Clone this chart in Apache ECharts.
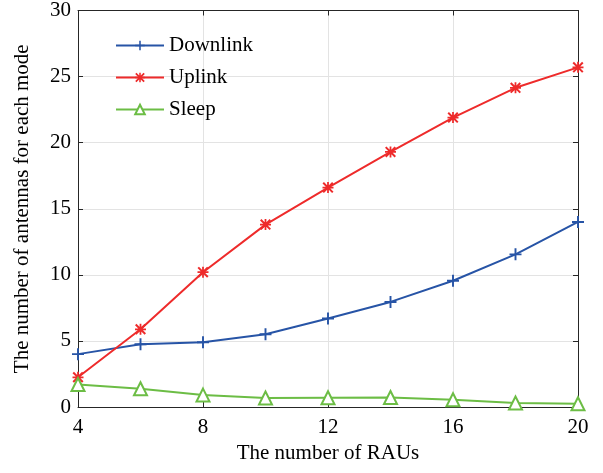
<!DOCTYPE html>
<html>
<head>
<meta charset="utf-8">
<script src="https://cdn.jsdelivr.net/npm/echarts@6/dist/echarts.min.js"></script>
<style>html,body{margin:0;padding:0;background:#fff;}#c{width:603px;height:473px;}</style>
</head>
<body>
<div id="c"></div>
<script>
var xValues = [4, 6, 8, 10, 12, 14, 16, 18, 20];
var downlink = [4.0, 4.75, 4.9, 5.5, 6.7, 7.95, 9.55, 11.55, 14.0];
var uplink = [2.25, 5.88, 10.2, 13.8, 16.6, 19.3, 21.9, 24.15, 25.7];
var sleep = [1.7, 1.38, 0.9, 0.68, 0.7, 0.72, 0.55, 0.3, 0.25];
var seriesNames = ['Downlink', 'Uplink', 'Sleep'];
var xTicks = [4, 8, 12, 16, 20];
var yTicks = [0, 5, 10, 15, 20, 25, 30];

function pairs(ys) { return xValues.map(function (x, i) { return [x, ys[i]]; }); }

var plusPath = 'path://M4.2,0H5.8V4.2H10V5.8H5.8V10H4.2V5.8H0V4.2H4.2Z';
var starPath = 'path://M4.2,0H5.8V4.2H10V5.8H5.8V10H4.2V5.8H0V4.2H4.2Z M0,1.3L1.3,0L10,8.7L8.7,10Z M8.7,0L10,1.3L1.3,10L0,8.7Z';

var font = 'Liberation Serif';
var fs = 21;
var axisColor = '#262626';
var chart = echarts.init(document.getElementById('c'), null, {renderer: 'canvas'});
var baseX = {
  type: 'value', min: xTicks[0], max: xTicks[xTicks.length - 1], interval: 4
};
var baseY = {
  type: 'value', min: yTicks[0], max: yTicks[yTicks.length - 1], interval: 5
};
chart.setOption({
  animation: false,
  backgroundColor: '#fff',
  grid: {left: 78, right: 25, top: 8, bottom: 66, containLabel: false},
  legend: {
    orient: 'vertical', left: 115, top: 35, padding: 0, itemWidth: 48, itemHeight: 12, itemGap: 11,
    textStyle: {fontFamily: font, fontSize: fs, color: '#000'},
    data: seriesNames
  },
  xAxis: [
    Object.assign({}, baseX, {
      position: 'bottom',
      name: 'The number of RAUs', nameLocation: 'middle', nameGap: 33,
      nameTextStyle: {fontFamily: font, fontSize: fs, color: '#000'},
      axisLine: {show: true, onZero: false, lineStyle: {color: axisColor, width: 1}},
      axisTick: {show: true, inside: true, length: 5, lineStyle: {color: axisColor}},
      axisLabel: {fontFamily: font, fontSize: fs, color: '#000', margin: 10},
      splitLine: {show: true, lineStyle: {color: '#e3e3e3', width: 1}}
    }),
    Object.assign({}, baseX, {
      position: 'top',
      axisLine: {show: true, onZero: false, lineStyle: {color: axisColor, width: 1}},
      axisTick: {show: true, inside: true, length: 5, lineStyle: {color: axisColor}},
      axisLabel: {show: false},
      splitLine: {show: false}
    })
  ],
  yAxis: [
    Object.assign({}, baseY, {
      position: 'left',
      name: 'The number of antennas for each mode', nameLocation: 'middle', nameGap: 45,
      nameTextStyle: {fontFamily: font, fontSize: fs, color: '#000'},
      axisLine: {show: true, onZero: false, lineStyle: {color: axisColor, width: 1}},
      axisTick: {show: true, inside: true, length: 5, lineStyle: {color: axisColor}},
      axisLabel: {fontFamily: font, fontSize: fs, color: '#000', margin: 7},
      splitLine: {show: true, lineStyle: {color: '#e3e3e3', width: 1}}
    }),
    Object.assign({}, baseY, {
      position: 'right',
      axisLine: {show: true, onZero: false, lineStyle: {color: axisColor, width: 1}},
      axisTick: {show: true, inside: true, length: 5, lineStyle: {color: axisColor}},
      axisLabel: {show: false},
      splitLine: {show: false}
    })
  ],
  series: [
    {
      name: seriesNames[0], type: 'line', data: pairs(downlink),
      symbol: plusPath, symbolSize: 12, showAllSymbol: true,
      lineStyle: {color: '#2754a6', width: 2},
      itemStyle: {color: '#2754a6'}
    },
    {
      name: seriesNames[1], type: 'line', data: pairs(uplink),
      symbol: starPath, symbolSize: 11, showAllSymbol: true,
      lineStyle: {color: '#ee2b2b', width: 2},
      itemStyle: {color: '#ee2b2b'}
    },
    {
      name: seriesNames[2], type: 'line', data: pairs(sleep),
      symbol: 'triangle', symbolSize: 13, showAllSymbol: true,
      lineStyle: {color: '#6cbd45', width: 2},
      itemStyle: {color: '#ffffff', borderColor: '#6cbd45', borderWidth: 2}
    }
  ]
});
</script>
</body>
</html>
